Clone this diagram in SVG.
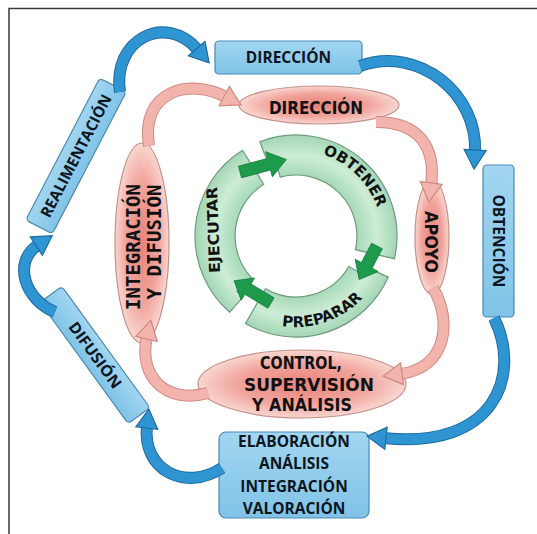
<svg xmlns="http://www.w3.org/2000/svg" width="537" height="534" viewBox="0 0 537 534">
<defs>
<style>
.frame{fill:none;stroke:#3a3a3a;stroke-width:1.5}
.bbox{fill:url(#gBlue);stroke:#4a89b3;stroke-width:1.2}
.btxt{font-family:"Open Sans","Liberation Sans",sans-serif;font-weight:700;font-size:15.5px;fill:#0e1420;text-anchor:middle}
.pell{fill:url(#gPink);stroke:#c4918c;stroke-width:1.2}
.ptxt{font-family:"DejaVu Sans","Liberation Sans",sans-serif;font-weight:700;font-size:17px;fill:#111;text-anchor:middle}
.mtxt{font-family:"DejaVu Sans Mono","Liberation Mono",monospace;font-weight:700;font-size:19px;fill:#111;text-anchor:middle}
.ring{fill:url(#gGreen);stroke:#6f9a80;stroke-width:1.2}
.gtxt{font-family:"DejaVu Sans","Liberation Sans",sans-serif;font-weight:700;font-size:15px;fill:#111;text-anchor:middle}
.garr{fill:#1d9a4c;stroke:#178040;stroke-width:0.8}
.bco{fill:none;stroke:#1f6a9e;stroke-width:12}
.bc{fill:none;stroke:#2e95d2;stroke-width:10}
.pco{fill:none;stroke:#d08982;stroke-width:12}
.pc{fill:none;stroke:#f3b4ad;stroke-width:10}
</style>
<linearGradient id="gBlue" x1="0" y1="0" x2="0" y2="1">
<stop offset="0" stop-color="#a2d6f0"/><stop offset="1" stop-color="#80c3e7"/>
</linearGradient>
<radialGradient id="gPink" cx="50%" cy="50%" r="50%">
<stop offset="0" stop-color="#e9837b"/><stop offset="0.6" stop-color="#f0a39b"/><stop offset="1" stop-color="#f9d6d0"/>
</radialGradient>
<radialGradient id="gGreen" gradientUnits="userSpaceOnUse" cx="296" cy="236" r="101">
<stop offset="0.6" stop-color="#a6d9b7"/><stop offset="0.8" stop-color="#cdecd6"/><stop offset="1" stop-color="#a3d6b4"/>
</radialGradient>
<marker id="mb" viewBox="0 0 20 24" refX="2" refY="12" markerWidth="20" markerHeight="24" markerUnits="userSpaceOnUse" orient="auto" overflow="visible">
<path d="M0,1 L19,12 L0,23 Z" fill="#2e95d2" stroke="#1f6a9e" stroke-width="1.2"/>
</marker>
<marker id="mp" viewBox="0 0 20 24" refX="2" refY="12" markerWidth="20" markerHeight="24" markerUnits="userSpaceOnUse" orient="auto" overflow="visible">
<path d="M0,1 L19,12 L0,23 Z" fill="#f3b4ad" stroke="#d08982" stroke-width="1.2"/>
</marker>
</defs>
<rect width="537" height="534" fill="#ffffff"/>
<path class="frame" d="M9,534 L9,8.5 L537,8.5"/>

<g id="ring">
<path id="seg-obtener" class="ring" d="M259.8,141.7 A101,101 0 0 1 394.4,258.7 L355.4,249.7 A61,61 0 0 0 280.2,177.1 L275.0,157.8 L267.0,160.4 Z"/>
<path id="seg-preparar" class="ring" d="M388.3,277.1 A101,101 0 0 1 245.5,323.5 L265.5,288.8 A61,61 0 0 0 348.8,266.5 L366.1,276.5 L370.0,268.9 Z"/>
<path id="seg-ejecutar" class="ring" d="M229.7,312.2 A101,101 0 0 1 242.5,150.3 L263.7,184.3 A61,61 0 0 0 251.4,277.6 L236.8,291.2 L242.9,297.1 Z"/>
<path id="arcObt" d="M310.2,151.2 A86,86 0 0 1 380.6,220.3" fill="none"/>
<path id="arcPrep" d="M263.4,321.0 A91,91 0 0 0 374.0,282.9" fill="none"/>
<text class="gtxt"><textPath href="#arcObt" startOffset="50%">OBTENER</textPath></text>
<text class="gtxt" font-size="14.5"><textPath href="#arcPrep" startOffset="50%">PREPARAR</textPath></text>
<text class="gtxt" transform="translate(213,230) rotate(-92)" y="5.5" textLength="86" lengthAdjust="spacingAndGlyphs">EJECUTAR</text>
</g>

<g id="n-direccion">
<rect class="bbox" x="215" y="41" width="147" height="33" rx="4"/>
<text class="btxt" x="288.5" y="63">DIRECCIÓN</text>
</g>
<g id="n-obtencion" transform="translate(498.5,241)">
<rect class="bbox" x="-15.5" y="-76" width="31" height="152" rx="4"/>
<text class="btxt" transform="rotate(90)" y="5.4">OBTENCIÓN</text>
</g>
<g id="n-realimentacion" transform="translate(76,156) rotate(-62.5)">
<rect class="bbox" x="-80" y="-15" width="160" height="30" rx="4"/>
<text class="btxt" y="5.4" textLength="136" lengthAdjust="spacingAndGlyphs">REALIMENTACIÓN</text>
</g>
<g id="n-difusion" transform="translate(95,355) rotate(54)">
<rect class="bbox" x="-75" y="-13.5" width="150" height="27" rx="4"/>
<text class="btxt" y="5.4" textLength="78" lengthAdjust="spacingAndGlyphs">DIFUSIÓN</text>
</g>
<g id="n-elaboracion">
<rect class="bbox" x="219" y="432" width="150" height="86" rx="7"/>
<text class="btxt" x="294" y="447">ELABORACIÓN</text>
<text class="btxt" x="294" y="469">ANÁLISIS</text>
<text class="btxt" x="294" y="492">INTEGRACIÓN</text>
<text class="btxt" x="294" y="514">VALORACIÓN</text>
</g>

<g id="p-direccion">
<ellipse class="pell" cx="319" cy="105" rx="80" ry="19"/>
<text class="ptxt" x="316" y="114" textLength="94" lengthAdjust="spacingAndGlyphs">DIRECCIÓN</text>
</g>
<g id="p-apoyo">
<ellipse class="pell" cx="432" cy="237" rx="17" ry="57"/>
<text class="ptxt" transform="translate(431,242) rotate(90)" y="6" font-size="16" textLength="62" lengthAdjust="spacingAndGlyphs">APOYO</text>
</g>
<g id="p-integracion">
<ellipse class="pell" cx="142" cy="243" rx="27" ry="100"/>
<text class="mtxt" transform="translate(133.5,247) rotate(-90)" y="6.5" textLength="126" lengthAdjust="spacingAndGlyphs">INTEGRACIÓN</text>
<text class="mtxt" transform="translate(154,242) rotate(-90)" y="6.5" textLength="115" lengthAdjust="spacingAndGlyphs">Y DIFUSIÓN</text>
</g>
<g id="p-control">
<ellipse class="pell" cx="302" cy="384" rx="104" ry="34"/>
<text class="ptxt" x="301" y="369" textLength="82" lengthAdjust="spacingAndGlyphs">CONTROL,</text>
<text class="ptxt" x="309" y="391" textLength="130" lengthAdjust="spacingAndGlyphs">SUPERVISIÓN</text>
<text class="ptxt" x="302" y="411" textLength="100" lengthAdjust="spacingAndGlyphs">Y ANÁLISIS</text>
</g>

<g id="connectors">
<path class="bco" d="M120,92 C112,40 165,12 198,50"/>
<path class="bc" d="M120,92 C112,40 165,12 198,50" marker-end="url(#mb)"/>
<path class="bco" d="M360,66 C420,45 478,95 475,152"/>
<path class="bc" d="M360,66 C420,45 478,95 475,152" marker-end="url(#mb)"/>
<path class="bco" d="M494,318 C522,375 495,450 384,438"/>
<path class="bc" d="M494,318 C522,375 495,450 384,438" marker-end="url(#mb)"/>
<path class="bco" d="M222,468 C185,492 142,470 147,426"/>
<path class="bc" d="M222,468 C185,492 142,470 147,426" marker-end="url(#mb)"/>
<path class="bco" d="M55,312 C25,300 12,262 38,245"/>
<path class="bc" d="M55,312 C25,300 12,262 38,245" marker-end="url(#mb)"/>

<path class="pco" d="M149,146 C140,90 190,78 226,97"/>
<path class="pc" d="M149,146 C140,90 190,78 226,97" marker-end="url(#mp)"/>
<path class="pco" d="M376,122 C420,122 436,148 431,185"/>
<path class="pc" d="M376,122 C420,122 436,148 431,185" marker-end="url(#mp)"/>
<path class="pco" d="M433,288 C452,320 448,368 400,374"/>
<path class="pc" d="M433,288 C452,320 448,368 400,374" marker-end="url(#mp)"/>
<path class="pco" d="M208,393 C165,405 138,375 147,337"/>
<path class="pc" d="M208,393 C165,405 138,375 147,337" marker-end="url(#mp)"/>

<polygon class="garr" points="0,-6 30,-6 30,-13 48,0 30,13 30,6 0,6" transform="translate(240,172) rotate(-15)"/>
<polygon class="garr" points="0,-6 22,-6 22,-13 38,0 22,13 22,6 0,6" transform="translate(377,246) rotate(118)"/>
<polygon class="garr" points="0,-6 27,-6 27,-13 43,0 27,13 27,6 0,6" transform="translate(271,303) rotate(211)"/>
</g>
</svg>
